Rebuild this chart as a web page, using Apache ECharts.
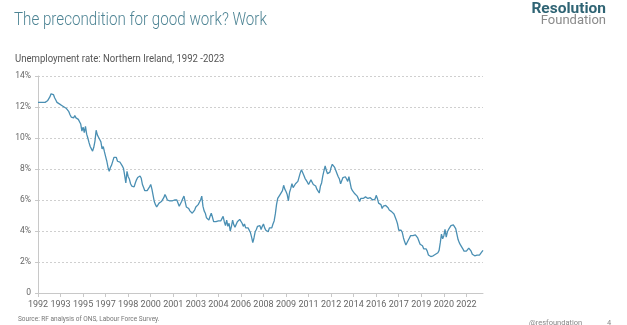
<!DOCTYPE html>
<html>
<head>
<meta charset="utf-8">
<script src="https://cdn.jsdelivr.net/npm/echarts@6/dist/echarts.min.js"></script>
<style>
  html, body { margin: 0; padding: 0; background: #fff; }
  #chart { width: 627px; height: 325px; }
</style>
</head>
<body>
<div id="chart"></div>
<script>
// monthly unemployment rate, Northern Ireland (%), Apr 1992 - Jul 2023
const rate1990s = [
  12.3, 12.35, 12.3, 12.35, 12.3, 12.35, 12.3, 12.35, 12.4,                 // 1992 (Apr-Dec)
  12.45, 12.65, 12.85, 12.9, 12.8, 12.6, 12.45, 12.3, 12.25, 12.2, 12.2, 12.1, // 1993
  12.05, 12.0, 11.9, 11.9, 11.8, 11.7, 11.5, 11.35, 11.4, 11.3, 11.45, 11.3,  // 1994
  11.25, 11.2, 11.05, 10.9, 10.45, 10.7, 10.35, 10.75, 10.25, 10.0, 9.7, 9.45, // 1995
  9.3, 9.15, 9.4, 9.8, 10.5, 10.2, 10.05, 9.9, 9.75, 9.3, 9.45, 9.1,          // 1996
  8.8, 8.5, 8.1, 7.85, 8.1, 8.25, 8.35, 8.75, 8.7, 8.75, 8.5, 8.5,            // 1997
  8.45, 8.45, 8.2, 8.05, 7.6, 7.1, 7.85, 7.5, 7.35, 7.05, 6.9, 6.8,           // 1998
  6.85, 7.1, 7.3, 7.45, 7.5, 7.55, 7.4, 7.0, 6.8, 6.6, 6.55, 6.6              // 1999
];
const rate2000s = [
  6.7, 6.85, 7.0, 6.7, 6.3, 5.9, 5.7, 5.55, 5.65, 5.8, 5.75, 5.9,    // 2000
  6.0, 6.15, 6.35, 6.2, 6.0, 6.05, 5.95, 5.9, 5.95, 5.85, 6.0, 6.05, // 2001
  6.0, 5.9, 5.6, 5.7, 5.9, 6.1, 6.25, 5.9, 5.55, 5.5, 5.45, 5.3,     // 2002
  5.25, 5.15, 5.2, 5.35, 5.55, 5.6, 5.7, 5.85, 6.0, 6.25, 5.6, 5.3,  // 2003
  5.15, 4.85, 4.95, 4.7, 4.95, 5.15, 4.9, 4.6, 4.7, 4.6, 4.7, 4.65,  // 2004
  4.75, 4.65, 4.8, 4.95, 4.6, 4.35, 4.7, 4.3, 4.5, 4.0, 4.3, 4.7,    // 2005
  4.4, 4.25, 4.3, 4.6, 4.7, 4.75, 4.65, 4.5, 4.3, 4.45, 4.2, 4.1,    // 2006
  4.2, 4.15, 3.9, 3.6, 3.25, 3.55, 3.95, 4.1, 4.3, 4.2, 4.35, 4.1,   // 2007
  4.3, 4.45, 4.2, 4.05, 4.1, 3.95, 4.2, 4.3, 4.2, 4.45, 4.65, 5.1,   // 2008
  5.7, 6.1, 6.2, 6.35, 6.45, 6.6, 6.95, 6.7, 6.55, 6.35, 5.95, 6.5   // 2009
];
const rate2010s = [
  6.75, 7.05, 6.8, 6.9, 7.05, 7.1, 7.2, 7.3, 7.75, 7.95, 7.85, 7.6,  // 2010
  7.4, 7.3, 7.15, 7.0, 7.1, 7.3, 7.2, 7.0, 6.95, 6.9, 6.7, 6.6,      // 2011
  6.45, 6.9, 7.1, 7.55, 7.9, 8.2, 7.9, 7.7, 7.75, 7.8, 8.1, 8.3,     // 2012
  8.3, 8.1, 8.0, 7.7, 7.5, 7.35, 7.05, 7.0, 7.45, 7.4, 7.5, 7.35,    // 2013
  7.2, 7.5, 7.5, 6.75, 6.6, 6.5, 6.4, 6.35, 6.25, 6.15, 5.9, 6.1,    // 2014
  6.0, 6.1, 6.05, 6.2, 6.15, 6.1, 6.05, 6.15, 6.1, 6.0, 5.95, 6.05,  // 2015
  6.3, 6.1, 5.8, 5.75, 5.7, 5.45, 5.6, 5.7, 5.65, 5.55, 5.5, 5.35,   // 2016
  5.3, 5.25, 5.2, 5.1, 5.05, 4.7, 4.45, 4.05, 4.0, 4.05, 3.9, 3.55,  // 2017
  3.3, 3.1, 3.2, 3.4, 3.55, 3.7, 3.8, 3.7, 3.7, 3.75, 3.8, 3.55,     // 2018
  3.45, 3.15, 3.1, 3.05, 2.85, 2.95, 2.85, 2.7, 2.45, 2.33, 2.35, 2.4 // 2019
];
const rate2020s = [
  2.4, 2.45, 2.5, 2.5, 2.6, 2.75, 3.25, 3.8, 3.5, 3.7, 4.1, 3.6,     // 2020
  3.95, 4.1, 4.2, 4.35, 4.45, 4.4, 4.3, 4.15, 3.8, 3.45, 3.25, 3.1,  // 2021
  3.0, 2.85, 2.7, 2.65, 2.7, 2.75, 2.9, 2.85, 2.7, 2.5, 2.4, 2.4,    // 2022
  2.4, 2.45, 2.4, 2.45, 2.55, 2.65, 2.75                             // 2023 (Jan-Jul)
];
const yTicks = [0, 2, 4, 6, 8, 10, 12, 14];
const startYear = 1992, startMonth = 4;

const rate = rate1990s.concat(rate2000s, rate2010s, rate2020s);
const months = [];
for (let i = 0; i < rate.length; i++) {
  const m = startMonth - 1 + i;
  months.push((startYear + Math.floor(m / 12)) + '-' + String(m % 12 + 1).padStart(2, '0'));
}

// the slide text is a little narrow, so squeeze it horizontally
function label(text, x, y, font, fill, opts) {
  return Object.assign({
    type: 'text', x: x, y: y, silent: true,
    style: { text: text, font: font, fill: fill, verticalAlign: 'top' }
  }, opts || {});
}

const chart = echarts.init(document.getElementById('chart'));
chart.setOption({
  animation: false,
  textStyle: { fontFamily: 'Roboto' },
  graphic: [
    label('The precondition for good work? Work', 14, 11, '300 18.5px Roboto', '#4e8494', { scaleX: 0.82 }),
    label('Unemployment rate: Northern Ireland, 1992 -2023', 15, 54, '11px Roboto', '#555', { scaleX: 0.87 }),
    label('Resolution', 606, 1, 'bold 15.5px Roboto', '#2f6474', { style: { text: 'Resolution', font: 'bold 15.5px Roboto', fill: '#2f6474', align: 'right', verticalAlign: 'top' } }),
    label('Foundation', 606, 14, '13px Roboto', '#8a8a8a', { style: { text: 'Foundation', font: '13px Roboto', fill: '#8a8a8a', align: 'right', verticalAlign: 'top' } }),
    label('Source: RF analysis of ONS, Labour Force Survey.', 18, 316, '6.5px Roboto', '#777'),
    label('@resfoundation', 529, 319, '7.5px Roboto', '#888'),
    label('4', 607, 319, '7.5px Roboto', '#888')
  ],
  grid: { left: 38, right: 144, top: 76, bottom: 32 },
  xAxis: {
    type: 'category',
    data: months,
    boundaryGap: false,
    axisLine: { lineStyle: { color: '#c8c8c8', width: 1 } },
    axisTick: { show: true, interval: 18, length: 4, lineStyle: { color: '#c8c8c8' } },
    axisLabel: {
      interval: 18, color: '#666', fontSize: 9, margin: 7,
      formatter: v => v.slice(0, 4)
    },
    splitLine: { show: false }
  },
  yAxis: {
    type: 'value',
    min: yTicks[0],
    max: yTicks[yTicks.length - 1],
    interval: 2,
    axisLine: { show: true, lineStyle: { color: '#c8c8c8', width: 1 } },
    axisTick: { show: true, length: 3, lineStyle: { color: '#c8c8c8' } },
    axisLabel: {
      color: '#666', fontSize: 8.5, margin: 7,
      formatter: v => (v === 0 ? '0' : v + '%')
    },
    splitLine: { lineStyle: { color: '#cfcfcf', type: [2, 2], width: 1 } }
  },
  series: [{
    type: 'line',
    data: rate,
    showSymbol: false,
    lineStyle: { color: '#4a8fb3', width: 1.3 },
    itemStyle: { color: '#4a8fb3' }
  }]
});
</script>
</body>
</html>
